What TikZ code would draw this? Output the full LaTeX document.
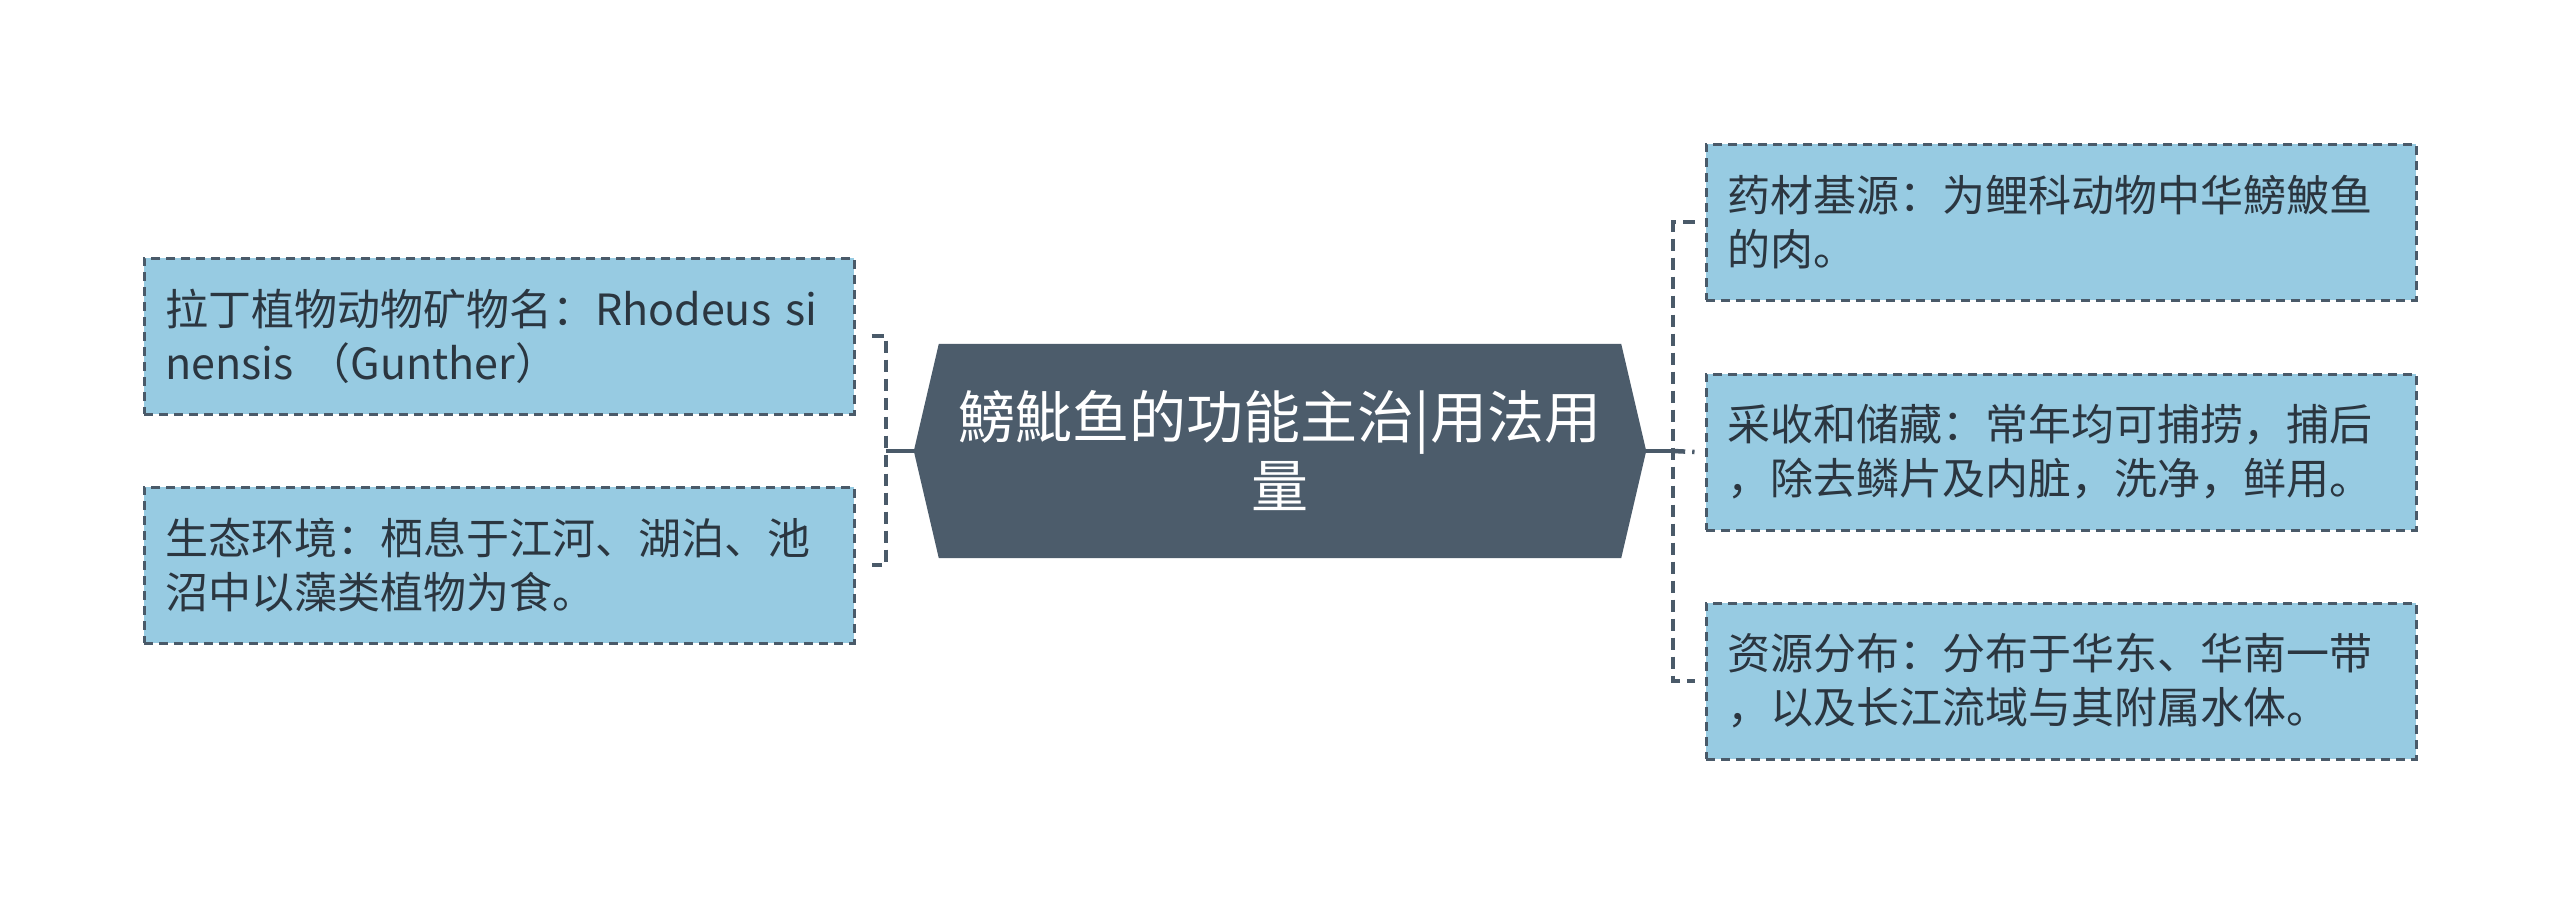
\documentclass[tikz,border=0pt]{standalone}
\usepackage{fontspec}
\setmainfont{Noto Sans CJK SC}
\usetikzlibrary{calc}
\usetikzlibrary{positioning}

\definecolor{leafblue}{HTML}{97CBE2}
\definecolor{rootslate}{HTML}{4C5C6B}
\definecolor{lineslate}{HTML}{4A5A69}
\definecolor{textdark}{HTML}{2B3640}

\tikzset{
  leaf/.style={draw=lineslate, fill=leafblue, line width=3pt, dash pattern=on 9pt off 6pt,
    minimum width=710pt, minimum height=156pt, text width=668pt, inner xsep=21pt,
    align=left, text=textdark, font=\fontsize{43}{54}\selectfont},
  rootbox/.style={minimum width=682pt, minimum height=214pt, inner sep=0pt,
    align=center, text=white, font=\fontsize{57}{69}\selectfont},
  conn/.style={draw=lineslate, line width=4.5pt},
  bracket/.style={conn, dash pattern=on 12pt off 7pt}
}

\begin{document}
\begin{tikzpicture}[x=1pt, y=-1pt]
            % Define the canvas
            \fill[white] (0,0) rectangle (2560,903);
            \useasboundingbox (0,0) rectangle (2560,903);

            % Draw the root node
            \node[rootbox] (root) at (1280,451) {鰟魮鱼的功能主治|用法用\\量};
            \fill[rootslate] (root.north west) -- (root.north east) -- ([xshift=25pt]root.east)
                -- (root.south east) -- (root.south west) -- ([xshift=-25pt]root.west) -- cycle;
            \node[rootbox] at (root) {鰟魮鱼的功能主治|用法用\\量};

            % Draw the left leaves
            \node[leaf] (latin) at (499,336) {拉丁植物动物矿物名：Rhodeus si\\nensis （Gunther）};
            \node[leaf] (habitat) at (499,565) {生态环境：栖息于江河、湖泊、池\\沼中以藻类植物为食。};

            % Draw the right leaves
            \node[leaf] (source) at (2061,222) {药材基源：为鲤科动物中华鰟鮍鱼\\的肉。};
            \node[leaf] (harvest) at (2061,452) {采收和储藏：常年均可捕捞，捕后\\，除去鳞片及内脏，洗净，鲜用。};
            \node[leaf] (spread) at (2061,681) {资源分布：分布于华东、华南一带\\，以及长江流域与其附属水体。};

            % Calculate the bracket points
            \coordinate (LB) at ([xshift=-53pt]root.west);
            \coordinate (RB) at ([xshift=52pt]root.east);
            \coordinate (LT1) at ([xshift=16pt]latin.east);
            \coordinate (LT2) at ([xshift=16pt]habitat.east);
            \coordinate (RT1) at ([xshift=-10pt]source.west);
            \coordinate (RT3) at ([xshift=-10pt]spread.west);

            % Draw the connectors
            \draw[conn] ([xshift=-25pt]root.west) -- (LB);
            \draw[bracket] (LT1) -- (LT1 -| LB) -- (LT2 -| LB) -- (LT2);

            \draw[conn] ([xshift=25pt]root.east) -- (RB);
            \draw[bracket] (RT1) -- (RT1 -| RB) -- (RT3 -| RB) -- (RT3);
            \draw[bracket] (RB) -- ([xshift=-10pt]harvest.west);
\end{tikzpicture}
\end{document}
